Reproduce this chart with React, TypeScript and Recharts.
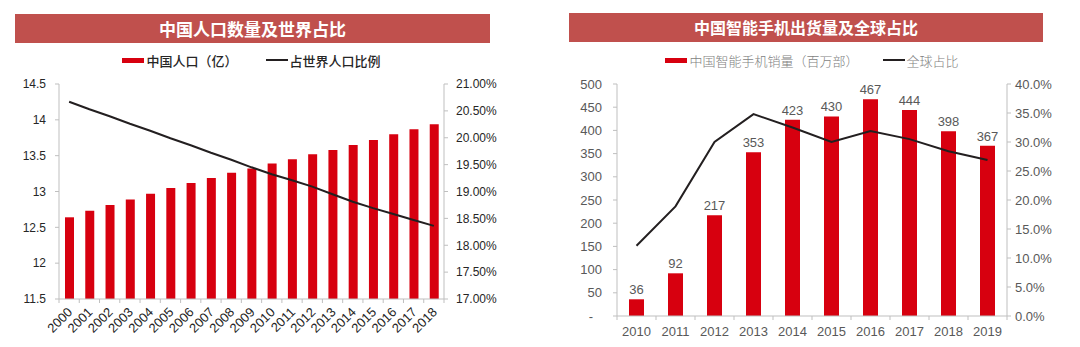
import React from 'react';
import {
  ComposedChart,
  Bar,
  Line,
  XAxis,
  YAxis,
  LabelList,
} from 'recharts';

// 中国人口数量及世界占比
const popYears = [
  '2000', '2001', '2002', '2003', '2004', '2005', '2006', '2007', '2008', '2009',
  '2010', '2011', '2012', '2013', '2014', '2015', '2016', '2017', '2018',
];
const popValues = [
  12.64, 12.73, 12.81, 12.89, 12.97, 13.05, 13.12, 13.19, 13.26, 13.32,
  13.39, 13.45, 13.52, 13.58, 13.65, 13.72, 13.8, 13.87, 13.94,
];
const popShare = [
  20.67, 20.53, 20.4, 20.26, 20.13, 19.99, 19.86, 19.72, 19.59, 19.45,
  19.32, 19.21, 19.09, 18.95, 18.81, 18.69, 18.58, 18.47, 18.36,
];
const popTicks = [11.5, 12, 12.5, 13, 13.5, 14, 14.5];
const shareTicks = [17, 17.5, 18, 18.5, 19, 19.5, 20, 20.5, 21];

// 中国智能手机出货量及全球占比
const phoneYears = ['2010', '2011', '2012', '2013', '2014', '2015', '2016', '2017', '2018', '2019'];
const phoneSales = [36, 92, 217, 353, 423, 430, 467, 444, 398, 367];
const phoneShare = [12.1, 18.9, 30.0, 34.8, 32.5, 30.0, 31.9, 30.5, 28.4, 26.9];
const salesTicks = [0, 50, 100, 150, 200, 250, 300, 350, 400, 450, 500];
const phoneShareTicks = [0, 5, 10, 15, 20, 25, 30, 35, 40];

const RED = '#d7000f';
const TITLE_BG = '#c0504d';
const LINE = '#231f20';
const AXIS = '#bfbfbf';
const LATIN = '"Liberation Sans", Arial, sans-serif';
const CJK = '"Noto Sans CJK SC", "Noto Sans", sans-serif';

const popData = popYears.map((year, i) => ({ year, pop: popValues[i], share: popShare[i] }));
const phoneData = phoneYears.map((year, i) => ({ year, sales: phoneSales[i], share: phoneShare[i] }));

function RotatedTick(props: any) {
  const { x, y, payload, index, visibleTicksCount } = props;
  const half = payload.offset ?? 10;
  const last = index === visibleTicksCount - 1;
  return (
    <g>
      <line x1={x - half} x2={x - half} y1={y} y2={y + 4} stroke={AXIS} />
      {last && <line x1={x + half} x2={x + half} y1={y} y2={y + 4} stroke={AXIS} />}
      <text
        transform={`translate(${x + 4},${y + 14}) rotate(-45)`}
        textAnchor="end"
        fontSize={13}
        fontFamily={LATIN}
        fill="#262626"
      >
        {payload.value}
      </text>
    </g>
  );
}

function FlatTick(props: any) {
  const { x, y, payload, index, visibleTicksCount } = props;
  const half = payload.offset ?? 19;
  const last = index === visibleTicksCount - 1;
  return (
    <g>
      <line x1={x - half} x2={x - half} y1={y} y2={y + 4} stroke={AXIS} />
      {last && <line x1={x + half} x2={x + half} y1={y} y2={y + 4} stroke={AXIS} />}
      <text x={x} y={y + 15} dy="0.355em" textAnchor="middle" fontSize={13} fontFamily={LATIN} fill="#595959">
        {payload.value}
      </text>
    </g>
  );
}

function SalesTick(props: any) {
  const { x, y, payload } = props;
  const zero = payload.value === 0;
  return (
    <text x={zero ? x - 9 : x} y={y} dy="0.355em" textAnchor="end" fontSize={13} fontFamily={LATIN} fill="#595959">
      {zero ? '-' : payload.value}
    </text>
  );
}

function TitleBar({ left, width, top, text, size }: any) {
  return (
    <div
      style={{
        position: 'absolute',
        left,
        top,
        width,
        height: 29,
        background: TITLE_BG,
        color: '#fff',
        fontFamily: CJK,
        fontWeight: 700,
        fontSize: size,
        lineHeight: '29px',
        textAlign: 'center',
      }}
    >
      {text}
    </div>
  );
}

function LegendRow({ left, width, items, color, size, weight, gap }: any) {
  return (
    <div
      style={{
        position: 'absolute',
        left,
        top: 51,
        width,
        height: 18,
        display: 'flex',
        justifyContent: 'center',
        alignItems: 'center',
        gap,
        fontFamily: CJK,
        fontSize: size,
        fontWeight: weight,
        color,
        whiteSpace: 'nowrap',
      }}
    >
      {items.map((it: any) => (
        <div key={it.label} style={{ display: 'flex', alignItems: 'center', gap: 2 }}>
          <div style={{ width: 22, height: it.bar ? 5 : 2, background: it.bar ? RED : LINE }} />
          <span>{it.label}</span>
        </div>
      ))}
    </div>
  );
}

export default function App() {
  return (
    <div style={{ position: 'absolute', left: 0, top: 0, width: 1080, height: 347, background: '#fff', overflow: 'hidden' }}>
      <TitleBar left={15} top={14} width={475} text="中国人口数量及世界占比" size={17} />
      <LegendRow
        left={59}
        width={385}
        color="#262626"
        size={13}
        weight={500}
        gap={28}
        items={[
          { label: '中国人口（亿）', bar: true },
          { label: '占世界人口比例', bar: false },
        ]}
      />
      <div style={{ position: 'absolute', left: 0, top: 0 }}>
        <ComposedChart
          width={540}
          height={347}
          data={popData}
          margin={{ top: 84, right: 0, bottom: 0, left: 0 }}
          barSize={9}
        >
          <XAxis
            dataKey="year"
            height={48}
            stroke={AXIS}
            tickLine={false}
            tickSize={0}
            tickMargin={0}
            interval={0}
            tick={<RotatedTick />}
          />
          <YAxis
            yAxisId="left"
            width={59}
            domain={[11.5, 14.5]}
            ticks={popTicks}
            allowDataOverflow
            stroke={AXIS}
            tickSize={4}
            tickMargin={9}
            tick={{ fontSize: 12, fill: '#262626', fontFamily: LATIN }}
          />
          <YAxis
            yAxisId="right"
            orientation="right"
            width={96}
            domain={[17, 21]}
            ticks={shareTicks}
            allowDataOverflow
            stroke={AXIS}
            tickSize={4}
            tickMargin={8}
            tickFormatter={(v: number) => `${v.toFixed(2)}%`}
            tick={{ fontSize: 12, fill: '#262626', fontFamily: LATIN, textAnchor: 'start' }}
          />
          <Bar yAxisId="left" dataKey="pop" fill={RED} isAnimationActive={false} />
          <Line
            yAxisId="right"
            dataKey="share"
            stroke={LINE}
            strokeWidth={2}
            dot={false}
            type="linear"
            isAnimationActive={false}
          />
        </ComposedChart>
      </div>

      <TitleBar left={569} top={13} width={474} text="中国智能手机出货量及全球占比" size={16} />
      <LegendRow
        left={617}
        width={390}
        color="#7f7f7f"
        size={13}
        weight={300}
        gap={24}
        items={[
          { label: '中国智能手机销量（百万部）', bar: true },
          { label: '全球占比', bar: false },
        ]}
      />
      <div style={{ position: 'absolute', left: 540, top: 0 }}>
        <ComposedChart
          width={540}
          height={347}
          data={phoneData}
          margin={{ top: 84, right: 0, bottom: 0, left: 0 }}
          barSize={15}
        >
          <XAxis
            dataKey="year"
            height={31}
            stroke={AXIS}
            tickLine={false}
            tickSize={0}
            tickMargin={0}
            interval={0}
            tick={<FlatTick />}
          />
          <YAxis
            yAxisId="left"
            width={77}
            domain={[0, 500]}
            ticks={salesTicks}
            stroke={AXIS}
            tickSize={4}
            tickMargin={11}
            tick={<SalesTick />}
          />
          <YAxis
            yAxisId="right"
            orientation="right"
            width={73}
            domain={[0, 40]}
            ticks={phoneShareTicks}
            stroke={AXIS}
            tickSize={4}
            tickMargin={4}
            tickFormatter={(v: number) => `${v.toFixed(1)}%`}
            tick={{ fontSize: 13, fill: '#595959', fontFamily: LATIN, textAnchor: 'start' }}
          />
          <Bar yAxisId="left" dataKey="sales" fill={RED} isAnimationActive={false}>
            <LabelList dataKey="sales" position="top" offset={5} fontSize={13} fill="#595959" fontFamily={LATIN} />
          </Bar>
          <Line
            yAxisId="right"
            dataKey="share"
            stroke={LINE}
            strokeWidth={2}
            dot={false}
            type="linear"
            isAnimationActive={false}
          />
        </ComposedChart>
      </div>
    </div>
  );
}
